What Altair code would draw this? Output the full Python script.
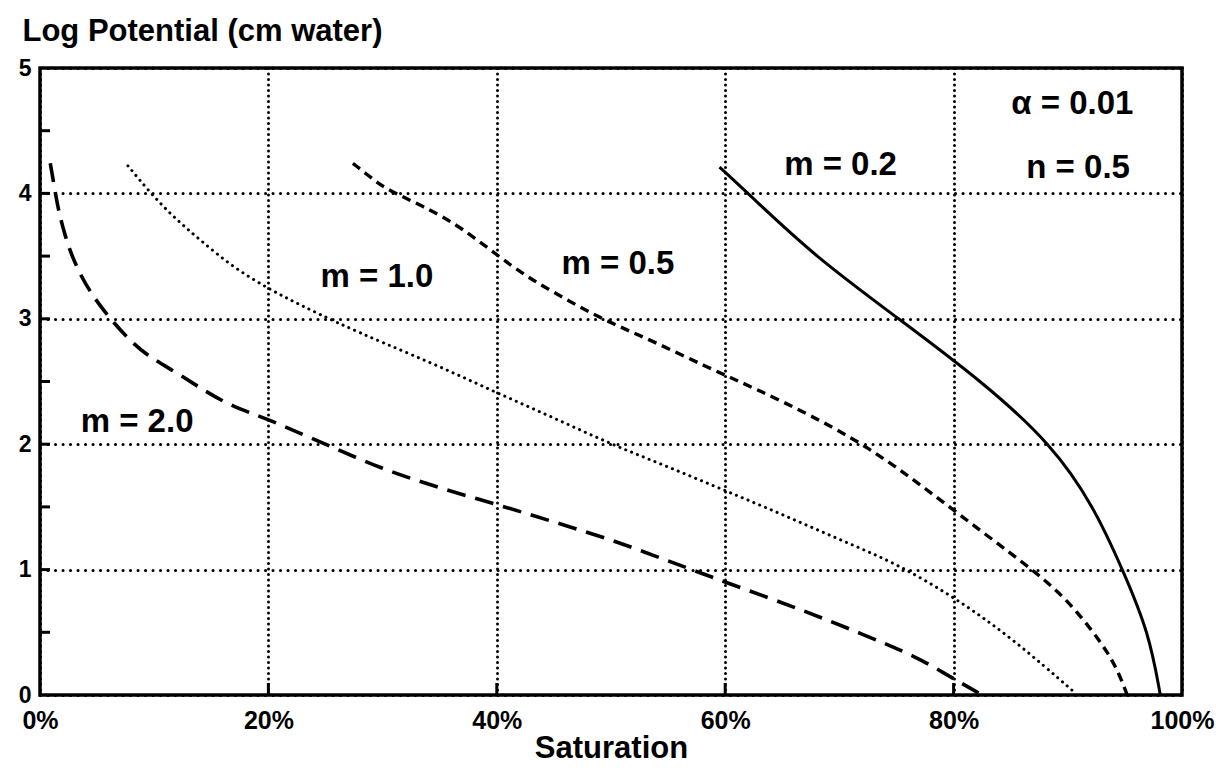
import altair as alt
import pandas as pd

# Water-retention curves: saturation (%) vs log10 of suction (cm water)
sat_m02 = [59.5, 62.0, 67.8, 75.2, 82.5, 88.6, 92.3, 94.8, 97.1, 98.1]
pot_m02 = [4.21, 4.00, 3.50, 3.00, 2.50, 2.00, 1.50, 1.00, 0.50, 0.00]

sat_m05 = [27.4, 29.2, 30.4, 33.5, 36.8, 41.5, 44.6, 49.1, 53.5, 58.5, 62.5, 67.5, 72.5,
           77.5, 82.5, 87.5, 90.0, 92.0, 93.5, 94.5, 95.2]
pot_m05 = [4.24, 4.11, 4.03, 3.90, 3.74, 3.40, 3.23, 3.00, 2.83, 2.61, 2.45, 2.23, 1.98,
           1.65, 1.30, 0.96, 0.75, 0.53, 0.34, 0.17, 0.00]

sat_m10 = [7.7, 9.6, 11.7, 14.0, 16.9, 20.2, 22.8, 26.0, 30.0, 35.0, 40.0, 45.0, 50.0,
           55.0, 60.0, 65.0, 70.0, 75.0, 80.4, 85.3, 90.6]
pot_m10 = [4.22, 4.01, 3.81, 3.63, 3.41, 3.23, 3.11, 2.97, 2.81, 2.62, 2.41, 2.21, 2.00,
           1.82, 1.63, 1.44, 1.24, 1.05, 0.76, 0.44, 0.02]

sat_m20 = [0.9, 1.3, 1.6, 2.2, 2.8, 3.6, 4.5, 5.7, 7.5, 9.3, 11.8, 14.0, 16.2, 18.4, 20.2,
           25.0, 30.0, 35.0, 40.0, 45.0, 50.0, 55.0, 60.0, 66.7, 71.9, 76.9, 79.6, 82.5]
pot_m20 = [4.24, 4.03, 3.87, 3.66, 3.50, 3.34, 3.20, 3.05, 2.86, 2.71, 2.58, 2.45, 2.33, 2.25, 2.19,
           2.00, 1.80, 1.65, 1.52, 1.38, 1.24, 1.07, 0.90, 0.68, 0.49, 0.30, 0.15, 0.00]

# Curve annotations
label_text = ["m = 0.2", "m = 0.5", "m = 1.0", "m = 2.0", "α = 0.01", "n = 0.5"]
label_sat = [70.1, 50.6, 29.5, 8.5, 90.4, 90.9]
label_pot = [4.23, 3.44, 3.33, 2.18, 4.71, 4.20]

# Axis ticks
x_ticks = [0, 20, 40, 60, 80, 100]
y_ticks = [0, 1, 2, 3, 4, 5]
y_minor = [0.5, 1, 1.5, 2, 2.5, 3, 3.5, 4, 4.5]
x_minor = [20, 40, 60, 80]

FONT = "Liberation Sans"
W, H = 1142, 627

x_scale = alt.Scale(domain=[0, 100], nice=False, zero=False)
y_scale = alt.Scale(domain=[0, 5], nice=False, zero=False)

x_axis = alt.Axis(
    values=x_ticks, labelExpr="datum.value + '%'", grid=True, gridColor="black",
    gridDash=[0.1, 5.4], gridCap="round", gridWidth=3, ticks=False, domain=False,
    labelFont=FONT, labelFontSize=25, labelFontWeight="bold", labelColor="black",
    labelPadding=13, labelFlush=False,
    title="Saturation", titleFont=FONT, titleFontSize=31, titleFontWeight="bold",
    titleColor="black", titleY=62, titleBaseline="alphabetic",
)
y_axis = alt.Axis(
    values=y_ticks, format="d", grid=True, gridColor="black",
    gridDash=[0.1, 7.4], gridCap="round", gridWidth=3, ticks=False, domain=False,
    labelFont=FONT, labelFontSize=23, labelFontWeight="bold", labelColor="black",
    labelPadding=9, labelFlush=False,
    title="Log Potential (cm water)", titleFont=FONT, titleFontSize=31,
    titleFontWeight="bold", titleColor="black", titleAngle=0, titleAlign="left",
    titleX=-18, titleY=-28, titleBaseline="alphabetic",
)

def xenc():
    return alt.X("sat:Q", scale=x_scale, axis=x_axis)

def yenc():
    return alt.Y("pot:Q", scale=y_scale, axis=y_axis)

def curve(sat, pot, width, dash=None, cap="butt"):
    df = pd.DataFrame({"sat": sat, "pot": pot, "i": range(len(sat))})
    mark_kwargs = dict(color="black", strokeWidth=width, interpolate="basis",
                       strokeCap=cap, clip=True)
    if dash:
        mark_kwargs["strokeDash"] = dash
    return alt.Chart(df).mark_line(**mark_kwargs).encode(x=xenc(), y=yenc(), order="i:Q")

lines = [
    curve(sat_m02, pot_m02, 3),                          # m = 0.2, solid
    curve(sat_m05, pot_m05, 3.4, [9, 6]),                # m = 0.5, short dashes
    curve(sat_m10, pot_m10, 3, [0.1, 6.2], "round"),     # m = 1.0, dots
    curve(sat_m20, pot_m20, 3.6, [19, 10]),              # m = 2.0, long dashes
]

y_tick_marks = alt.Chart(pd.DataFrame({"pot": y_minor})).mark_rule(
    color="black", strokeWidth=3
).encode(y=yenc(), x=alt.value(0), x2=alt.value(10))

x_tick_marks = alt.Chart(pd.DataFrame({"sat": x_minor})).mark_rule(
    color="black", strokeWidth=3
).encode(x=xenc(), y=alt.value(H), y2=alt.value(H - 12))

labels = alt.Chart(
    pd.DataFrame({"sat": label_sat, "pot": label_pot, "label": label_text})
).mark_text(
    font=FONT, fontSize=33, fontWeight="bold", color="black",
    align="center", baseline="middle",
).encode(x=xenc(), y=yenc(), text="label:N")

chart = alt.layer(y_tick_marks, x_tick_marks, *lines, labels).properties(
    width=W, height=H,
    autosize=alt.AutoSizeParams(type="none"),
    padding={"left": 40, "top": 68, "right": 34, "bottom": 80},
    background="white",
).configure_view(stroke="black", strokeWidth=3.5)

chart.save("out.html", embed_options={"renderer": "svg", "actions": False})
